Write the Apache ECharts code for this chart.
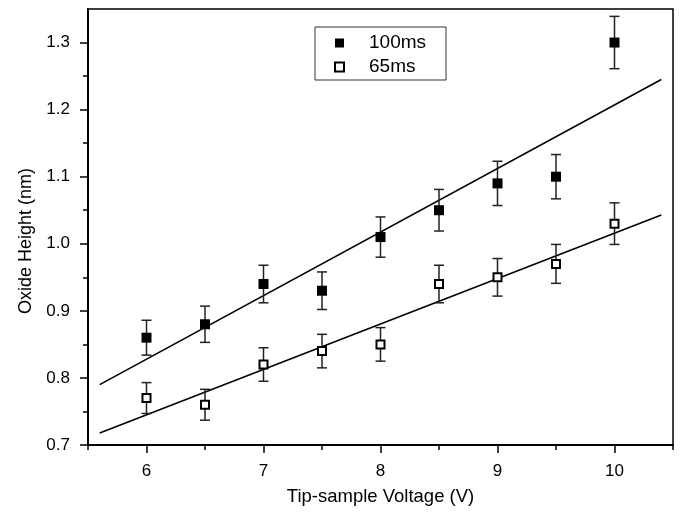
<!DOCTYPE html>
<html>
<head>
<meta charset="utf-8">
<script src="https://cdn.jsdelivr.net/npm/echarts@6/dist/echarts.min.js"></script>
<style>html,body{margin:0;padding:0;background:#fff;}#c{width:681px;height:512px;}</style>
</head>
<body>
<div id="c"></div>
<script>
// Data
var voltage = [6, 6.5, 7, 7.5, 8, 8.5, 9, 9.5, 10];
var height100 = [0.86, 0.88, 0.94, 0.93, 1.01, 1.05, 1.09, 1.10, 1.30];
var err100 = [0.026, 0.027, 0.028, 0.028, 0.030, 0.031, 0.033, 0.033, 0.039];
var height65 = [0.77, 0.76, 0.82, 0.84, 0.85, 0.94, 0.95, 0.97, 1.03];
var err65 = [0.023, 0.023, 0.025, 0.025, 0.025, 0.028, 0.028, 0.029, 0.031];
var fitX = [5.6, 10.4];
var fit100Y = [0.79, 1.245];
var fit65Y = [0.718, 1.043];
var xMajorTicks = [6, 7, 8, 9, 10];
var xMinorTicks = [5.5, 6.5, 7.5, 8.5, 9.5, 10.5];
var yMajorTicks = [0.7, 0.8, 0.9, 1.0, 1.1, 1.2, 1.3];
var yMinorTicks = [0.75, 0.85, 0.95, 1.05, 1.15, 1.25];

var FONT = 'Liberation Sans, Arial, sans-serif';

function pairs(xs, ys) { return xs.map(function (x, i) { return [x, ys[i]]; }); }
function errData(xs, ys, es) { return xs.map(function (x, i) { return [x, ys[i] - es[i], ys[i] + es[i]]; }); }

function errRender(params, api) {
  var x = api.value(0);
  var lo = api.coord([x, api.value(1)]);
  var hi = api.coord([x, api.value(2)]);
  var w = 5;
  var st = { stroke: '#222', lineWidth: 1.5 };
  return {
    type: 'group',
    children: [
      { type: 'line', shape: { x1: lo[0], y1: lo[1], x2: hi[0], y2: hi[1] }, style: st },
      { type: 'line', shape: { x1: lo[0] - w, y1: lo[1], x2: lo[0] + w, y2: lo[1] }, style: st },
      { type: 'line', shape: { x1: hi[0] - w, y1: hi[1], x2: hi[0] + w, y2: hi[1] }, style: st }
    ]
  };
}

var chart = echarts.init(document.getElementById('c'), null, { renderer: 'canvas' });
var baseX = { type: 'value', min: 5.5, max: 10.5, gridIndex: 0, position: 'bottom' };
var baseY = { type: 'value', min: 0.7, max: 1.35, gridIndex: 0, position: 'left' };
chart.setOption({
  animation: false,
  textStyle: { fontFamily: FONT },
  grid: { left: 88, right: 8, top: 9, bottom: 67, show: true, borderColor: '#000', borderWidth: 1.5, backgroundColor: 'transparent' },
  legend: {
    orient: 'vertical', left: 315, top: 27,
    data: ['100ms', '65ms'],
    itemWidth: 9, itemHeight: 9, itemGap: 4,
    padding: [6, 20, 3, 19],
    borderColor: '#333', borderWidth: 1,
    textStyle: { fontSize: 19, color: '#000', fontFamily: FONT, padding: [0, 0, 0, 20], lineHeight: 20 }
  },
  xAxis: [
    Object.assign({}, baseX, {
      name: 'Tip-sample Voltage (V)', nameLocation: 'middle', nameGap: 42,
      nameTextStyle: { fontSize: 18.5, color: '#000', fontFamily: FONT },
      axisLine: { show: true, lineStyle: { color: '#000', width: 2 } },
      axisTick: { show: true, inside: false, length: 8, lineStyle: { color: '#000', width: 1.5 }, customValues: xMajorTicks },
      axisLabel: { show: true, margin: 18, fontSize: 17, color: '#000', fontFamily: FONT, customValues: xMajorTicks },
      splitLine: { show: false }
    }),
    Object.assign({}, baseX, {
      axisLine: { show: false },
      axisTick: { show: true, inside: false, length: 5, lineStyle: { color: '#000', width: 1.5 }, customValues: xMinorTicks },
      axisLabel: { show: false },
      splitLine: { show: false }
    })
  ],
  yAxis: [
    Object.assign({}, baseY, {
      name: 'Oxide Height (nm)', nameLocation: 'middle', nameGap: 53,
      nameTextStyle: { fontSize: 18, color: '#000', fontFamily: FONT, padding: [0, 28, 0, 0] },
      axisLine: { show: true, lineStyle: { color: '#000', width: 2 } },
      axisTick: { show: true, inside: false, length: 8, lineStyle: { color: '#000', width: 1.5 }, customValues: yMajorTicks },
      axisLabel: { show: true, margin: 18, fontSize: 17, color: '#000', fontFamily: FONT, customValues: yMajorTicks,
        formatter: function (v) { return v.toFixed(1); } },
      splitLine: { show: false }
    }),
    Object.assign({}, baseY, {
      axisLine: { show: false },
      axisTick: { show: true, inside: false, length: 5, lineStyle: { color: '#000', width: 1.5 }, customValues: yMinorTicks },
      axisLabel: { show: false },
      splitLine: { show: false }
    })
  ],
  series: [
    { name: 'fit100', type: 'line', data: pairs(fitX, fit100Y), showSymbol: false, symbol: 'none',
      lineStyle: { color: '#000', width: 1.6 }, silent: true, z: 2 },
    { name: 'fit65', type: 'line', data: pairs(fitX, fit65Y), showSymbol: false, symbol: 'none',
      lineStyle: { color: '#000', width: 1.6 }, silent: true, z: 2 },
    { name: 'err100', type: 'custom', renderItem: errRender, data: errData(voltage, height100, err100), z: 3 },
    { name: 'err65', type: 'custom', renderItem: errRender, data: errData(voltage, height65, err65), z: 3 },
    { name: '100ms', type: 'scatter', data: pairs(voltage, height100), symbol: 'rect', symbolSize: 10,
      itemStyle: { color: '#000', opacity: 1 }, z: 5 },
    { name: '65ms', type: 'scatter', data: pairs(voltage, height65), symbol: 'rect', symbolSize: 8,
      itemStyle: { color: '#fff', borderColor: '#000', borderWidth: 2, opacity: 1 }, z: 5 }
  ]
});
</script>
</body>
</html>
